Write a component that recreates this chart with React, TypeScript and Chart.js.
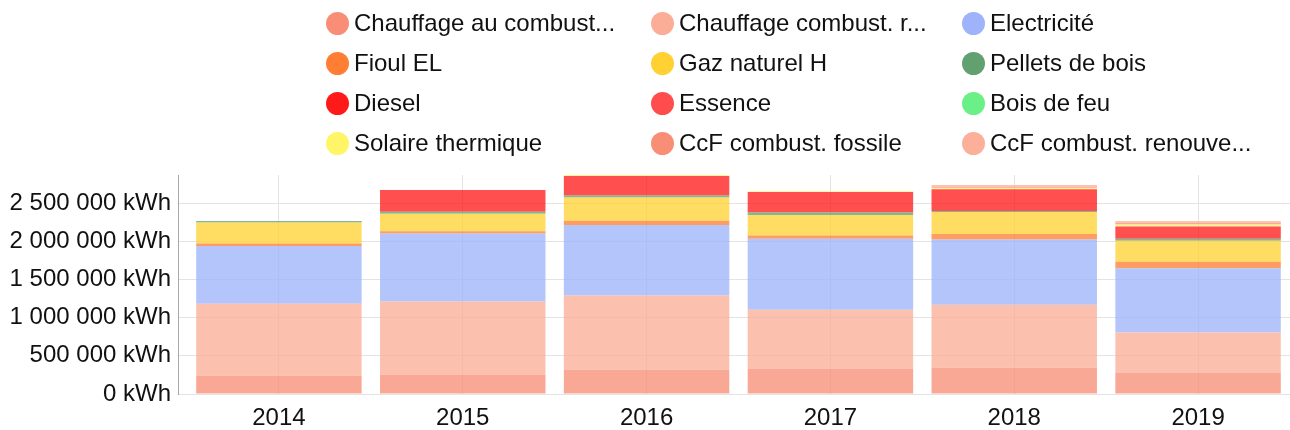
import React, { useEffect, useRef } from 'react';
import { Chart, registerables } from 'chart.js';

Chart.register(...registerables);

const years = ['2014', '2015', '2016', '2017', '2018', '2019'];

const seriesNames = [
  'Chauffage au combust...',
  'Chauffage combust. r...',
  'Electricité',
  'Fioul EL',
  'Gaz naturel H',
  'Pellets de bois',
  'Diesel',
  'Essence',
  'Bois de feu',
  'Solaire thermique',
  'CcF combust. fossile',
  'CcF combust. renouve...',
];

const seriesColors = [
  '#F98E76',
  '#FBAD97',
  '#9EB3FA',
  '#FF7E33',
  '#FFD133',
  '#62A070',
  '#FF1A1A',
  '#FF4D4D',
  '#6BF088',
  '#FFF566',
  '#F98E76',
  '#FCAF99',
];

const chauffageFossile = [240000, 253000, 318000, 331000, 344000, 283000];
const chauffageRenouvelable = [942000, 959000, 973000, 772000, 825000, 523000];
const electricite = [759000, 890000, 925000, 930000, 855000, 843000];
const fioulEL = [30000, 30000, 55000, 44000, 74000, 83000];
const gazNaturelH = [275000, 231000, 303000, 270000, 288000, 275000];
const pelletsBois = [22000, 26000, 26000, 30000, 13000, 26000];
const diesel = [0, 284000, 257000, 270000, 284000, 161000];
const essence = [0, 0, 0, 0, 0, 0];
const boisDeFeu = [0, 0, 0, 0, 0, 0];
const solaireThermique = [0, 0, 13000, 9000, 17000, 26000];
const ccfFossile = [0, 0, 0, 0, 10000, 20000];
const ccfRenouvelable = [0, 0, 0, 0, 28000, 28000];

const seriesValues = [
  chauffageFossile,
  chauffageRenouvelable,
  electricite,
  fioulEL,
  gazNaturelH,
  pelletsBois,
  diesel,
  essence,
  boisDeFeu,
  solaireThermique,
  ccfFossile,
  ccfRenouvelable,
];

const yStep = 500000;
const FONT = 'Arial, "Liberation Sans", sans-serif';

function withAlpha(hex: string, a: number) {
  const r = parseInt(hex.slice(1, 3), 16);
  const g = parseInt(hex.slice(3, 5), 16);
  const b = parseInt(hex.slice(5, 7), 16);
  return `rgba(${r},${g},${b},${a})`;
}

function formatKwh(v: number) {
  return String(Math.round(v)).replace(/\B(?=(\d{3})+(?!\d))/g, ' ') + ' kWh';
}

export default function App() {
  const ref = useRef<HTMLCanvasElement>(null);

  useEffect(() => {
    document.body.style.margin = '0';
    const canvas = ref.current;
    if (!canvas) return;
    const totals = years.map((_, i) => seriesValues.reduce((s, arr) => s + arr[i], 0));
    const yMax = Math.max(...totals);

    const shiftPlugin = {
      id: 'xshift',
      afterLayout(chart: any) {
        const x = chart.scales.x;
        x.left = x.left + 9;
        x.configure();
      },
    };

    const chart = new Chart(canvas, {
      type: 'bar',
      data: {
        labels: years,
        datasets: seriesNames.map((name, i) => ({
          label: name,
          data: seriesValues[i],
          backgroundColor: withAlpha(seriesColors[i], 0.77),
          borderWidth: 0,
          categoryPercentage: 0.9,
          barPercentage: 1,
        })),
      },
      options: {
        responsive: false,
        animation: false,
        devicePixelRatio: 1,
        layout: { padding: { top: 175, left: 0, right: 0, bottom: 0 } },
        plugins: {
          legend: { display: false },
          tooltip: { enabled: false },
        },
        scales: {
          x: {
            stacked: true,
            grid: { offset: false, color: '#e3e3e3', drawTicks: false },
            border: { display: false },
            ticks: {
              color: '#111',
              font: { family: FONT, size: 24 },
              padding: 10,
              maxRotation: 0,
            },
            afterFit: (s: any) => {
              s.height = 36;
            },
          },
          y: {
            stacked: true,
            min: 0,
            max: yMax,
            bounds: 'data',
            grid: { color: '#e3e3e3', drawTicks: false },
            border: { display: true, color: '#a8a8a8', width: 1 },
            ticks: {
              color: '#111',
              font: { family: FONT, size: 24 },
              padding: 7,
              callback: (v: any) => formatKwh(Number(v)),
            },
            afterBuildTicks: (s: any) => {
              const t: { value: number }[] = [];
              for (let v = 0; v <= s.max; v += yStep) t.push({ value: v });
              s.ticks = t;
            },
            afterFit: (s: any) => {
              s.width = 178;
            },
          },
        },
      } as any,
      plugins: [shiftPlugin],
    });
    return () => chart.destroy();
  }, []);

  return (
    <div style={{ position: 'relative', width: 1290, height: 430 }}>
      <canvas ref={ref} width={1290} height={430} style={{ display: 'block' }} />
      <div
        style={{
          position: 'absolute',
          left: 326,
          top: 3,
          display: 'grid',
          gridTemplateColumns: '325px 311px auto',
          gridAutoRows: '40px',
          fontFamily: FONT,
          fontSize: 24,
          color: '#111',
        }}
      >
        {seriesNames.map((n, i) => (
          <div key={n} style={{ display: 'flex', alignItems: 'center' }}>
            <span
              style={{
                width: 23,
                height: 23,
                borderRadius: '50%',
                background: seriesColors[i],
                marginRight: 5,
                flex: 'none',
              }}
            />
            <span style={{ whiteSpace: 'nowrap' }}>{n}</span>
          </div>
        ))}
      </div>
    </div>
  );
}
